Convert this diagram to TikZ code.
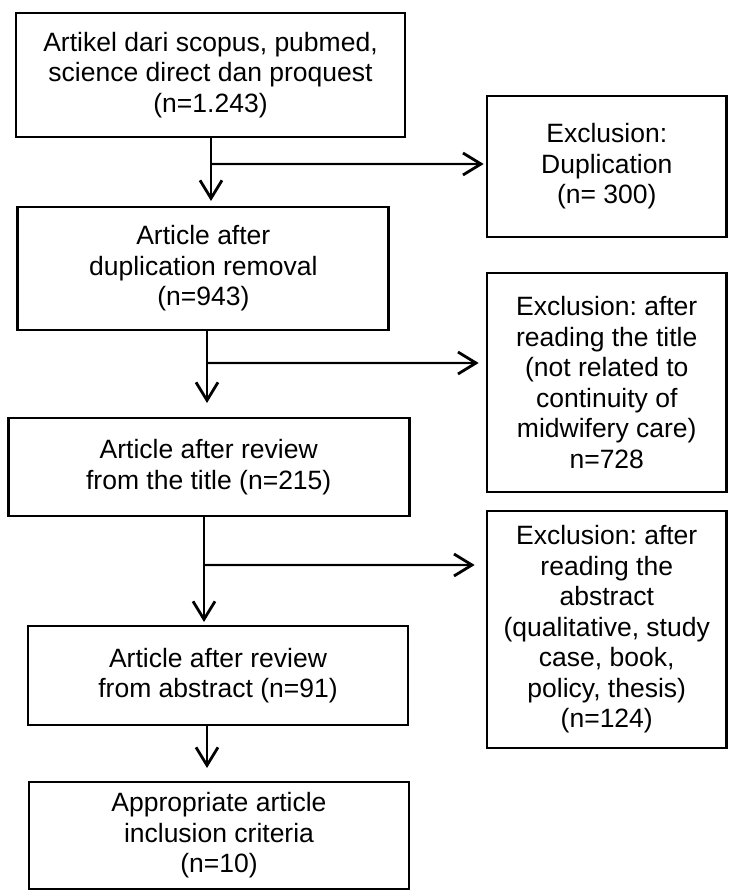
\documentclass[tikz,border=0pt]{standalone}
\usepackage{fontspec}
\setmainfont{Liberation Sans}
\usetikzlibrary{arrows.meta,calc}
\begin{document}
\frenchspacing
\begin{tikzpicture}[x=1pt,y=-1pt,
  box/.style={draw, line width=2.7pt, inner sep=0pt, align=center,
    font=\fontsize{26.5}{30.5}\selectfont\frenchspacing},
  conn/.style={line width=2.8pt},
  arr/.style={conn, -{Straight Barb[length=18pt,width=22pt]}},
  shad/.style={line width=4pt, draw=black!10, shift={(1,3.5)}}]
\useasboundingbox (0,0) rectangle (728,890);
\fill[white] (0,0) rectangle (728,890);

% left column
\node[box, minimum width=389pt, minimum height=124pt] (b1) at (210.5,75)
  {Artikel dari scopus, pubmed,\\science direct dan proquest\\(n=1.243)};
\node[box, minimum width=371pt, minimum height=123pt] (b2) at (203.3,268.5)
  {Article after\\duplication removal\\(n=943)};
\node[box, minimum width=401pt, minimum height=98pt] (b3) at (208.7,467)
  {Article after review\\from the title (n=215)};
\node[box, minimum width=380pt, minimum height=99pt] (b4) at (218,675.5)
  {Article after review\\from abstract (n=91)};
\node[box, minimum width=380pt, minimum height=107pt] (b5) at (219,835.5)
  {Appropriate article\\inclusion criteria\\(n=10)};

% right column
\node[box, minimum width=239.5pt, minimum height=141pt] (r1) at (606.75,166.5)
  {Exclusion:\\Duplication\\(n= 300)};
\node[box, minimum width=239.5pt, minimum height=219pt] (r2) at (606.75,382.5)
  {Exclusion: after\\reading the title\\(not related to\\continuity of\\midwifery care)\\n=728};
\node[box, minimum width=239.5pt, minimum height=237pt] (r3) at (606.75,629.5)
  {Exclusion: after\\reading the\\abstract\\(qualitative, study\\case, book,\\policy, thesis)\\(n=124)};

% junction points and arrow ends
\coordinate (j1) at (211,164);
\coordinate (t1) at (211,201);
\coordinate (j2) at (207,363);
\coordinate (t2) at (207,403);
\coordinate (j3) at (204,565);
\coordinate (t3) at (204,622);
\coordinate (t4) at (207,768);

% shadows of horizontal arrows
\draw[shad] (j1) -- ($(r1.west |- j1)+(-4,0)$);
\draw[shad] (j2) -- ($(r2.west |- j2)+(-9,0)$);
\draw[shad] (j3) -- ($(r3.west |- j3)+(-13,0)$);

% connectors
\draw[arr] (b1.south -| j1) -- (t1);
\draw[arr] (j1) -- ($(r1.west |- j1)+(-2,0)$);
\draw[arr] (b2.south -| j2) -- (t2);
\draw[arr] (j2) -- ($(r2.west |- j2)+(-7,0)$);
\draw[arr] (b3.south -| j3) -- (t3);
\draw[arr] (j3) -- ($(r3.west |- j3)+(-11,0)$);
\draw[arr] (b4.south -| t4) -- (t4);
\end{tikzpicture}
\end{document}
